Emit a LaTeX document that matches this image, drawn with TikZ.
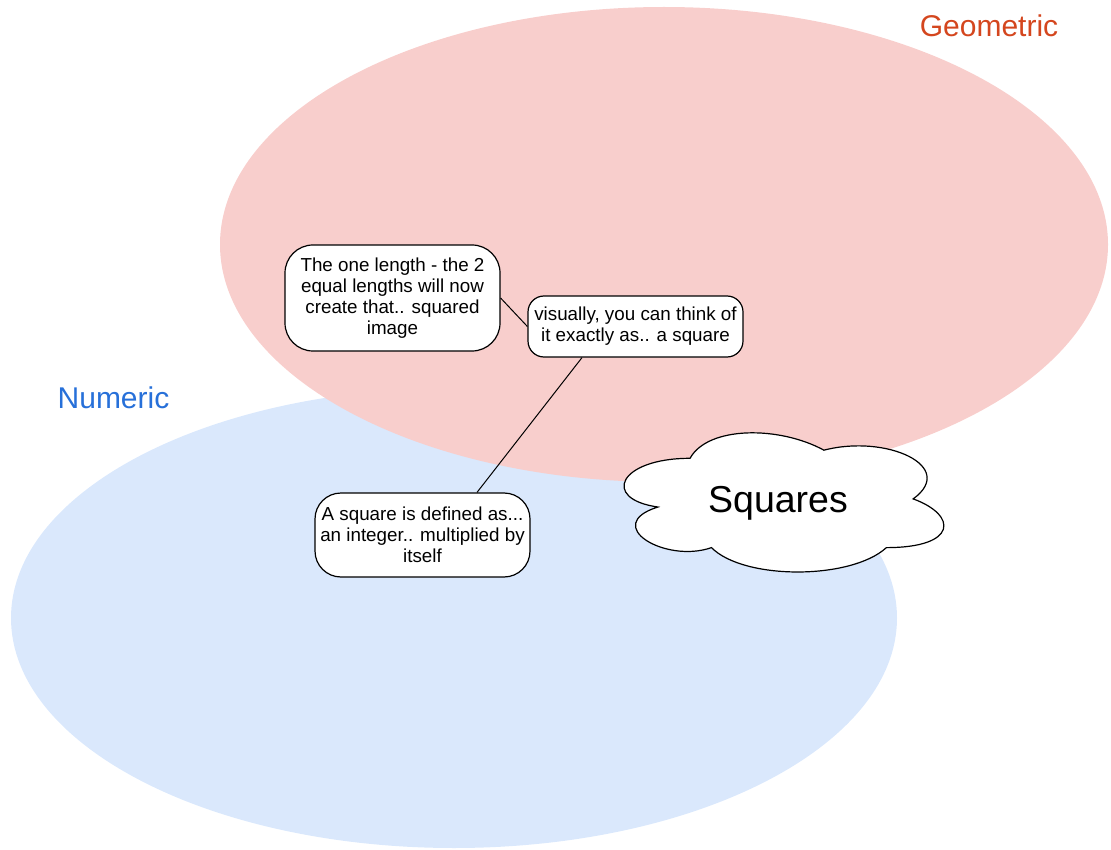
\documentclass[tikz,border=0pt]{standalone}
\usepackage{fontspec}
\setmainfont{Liberation Sans}
\usetikzlibrary{calc}
\definecolor{pinkfill}{HTML}{F8CECC}
\definecolor{bluefill}{HTML}{DAE8FC}
\definecolor{geomred}{HTML}{D4461E}
\definecolor{numblue}{HTML}{2770D9}
\begin{document}
\begin{tikzpicture}[x=1pt,y=-1pt,
  note/.style={draw=black,line width=1.2pt,fill=white,align=center,inner sep=0pt,
    minimum width=215pt,font=\fontsize{18.8}{21}\selectfont},
  setlabel/.style={anchor=base,inner sep=0pt,font=\fontsize{30}{34}\selectfont},
  link/.style={draw=black,line width=1pt}]
\useasboundingbox (0,0) rectangle (1111,850);
% sets
\fill[bluefill] (454,618) ellipse [x radius=443pt, y radius=230pt];
\fill[pinkfill] (664,244.5) ellipse [x radius=444pt, y radius=237.5pt];
\node[setlabel,text=geomred] (geomlabel) at (989,37) {Geometric};
\node[setlabel,text=numblue] (numlabel) at (113.5,408) {Numeric};
% cloud
\begin{scope}[shift={(600.8,417.7)},x=357pt,y=-162.4pt]
\draw[fill=white,line width=1.2pt] (0.25,0.25) .. controls (0.05,0.25) and (0,0.5) .. (0.16,0.55)
  .. controls (0,0.66) and (0.18,0.9) .. (0.31,0.8)
  .. controls (0.4,1) and (0.7,1) .. (0.8,0.8)
  .. controls (1,0.8) and (1,0.6) .. (0.875,0.5)
  .. controls (1,0.3) and (0.8,0.1) .. (0.625,0.2)
  .. controls (0.5,0.05) and (0.3,0.05) .. (0.25,0.25) -- cycle;
\end{scope}
\node[anchor=base,inner sep=0pt,font=\fontsize{37.5}{42}\selectfont] (squares) at (778,512) {Squares};
% notes
\node[note,minimum height=106pt,rounded corners=28pt] (len) at (392.5,298)
  {The one length - the 2\\equal lengths will now\\create that.. squared\\image};
\node[note,minimum height=61pt,rounded corners=16pt] (vis) at (635.5,326.5)
  {visually, you can think of\\it exactly as.. a square};
\node[note,minimum height=84pt,rounded corners=26pt] (def) at (422.5,535)
  {A square is defined as...\\an integer.. multiplied by\\itself};
% connectors
\draw[link] (len.east) -- (vis.west);
\draw[link] ($(vis.south)+(-53.5,0)$) -- ($(def.north)+(54.5,0)$);
\end{tikzpicture}
\end{document}
